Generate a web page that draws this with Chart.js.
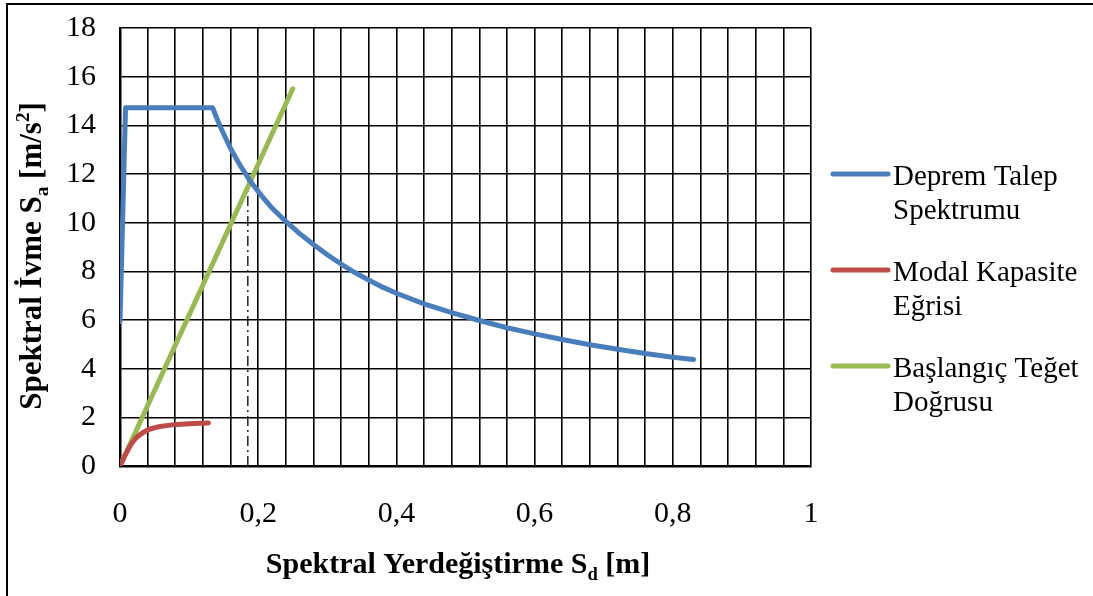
<!DOCTYPE html>
<html>
<head>
<meta charset="utf-8">
<script src="https://cdn.jsdelivr.net/npm/chart.js@4.4.0/dist/chart.umd.min.js"></script>
<style>
  body { margin: 0; background: #fff; }
  #wrap { width: 1093px; height: 596px; position: relative; }
</style>
</head>
<body>
<div id="wrap"><canvas id="spectrumChart"></canvas></div>
<script>
const seriesNames = ["Deprem Talep Spektrumu", "Modal Kapasite Eğrisi", "Başlangıç Teğet Doğrusu"];
const legendLines = [["Deprem Talep", "Spektrumu"], ["Modal Kapasite", "Eğrisi"], ["Başlangıç Teğet", "Doğrusu"]];

// Deprem talep spektrumu (Sd [m], Sa [m/s2])
const demandSd = [0, 0.008, 0.134, 0.145, 0.16, 0.175, 0.19, 0.205, 0.22, 0.24, 0.26, 0.28, 0.30, 0.32, 0.34, 0.36, 0.38, 0.40, 0.44, 0.48, 0.52, 0.56, 0.60, 0.64, 0.68, 0.72, 0.76, 0.80, 0.83];
const demandSa = [5.93, 14.72, 14.72, 13.95, 13.05, 12.3, 11.65, 11.1, 10.6, 10.05, 9.55, 9.1, 8.68, 8.3, 7.95, 7.64, 7.35, 7.1, 6.66, 6.3, 5.98, 5.68, 5.43, 5.2, 4.98, 4.8, 4.62, 4.47, 4.38];

// Modal kapasite egrisi
const capacitySd = [0, 0.005, 0.01, 0.017, 0.024, 0.03, 0.04, 0.05, 0.06, 0.07, 0.08, 0.09, 0.10, 0.11, 0.12, 0.128];
const capacitySa = [0, 0.3, 0.58, 0.93, 1.17, 1.31, 1.48, 1.57, 1.63, 1.67, 1.70, 1.72, 1.74, 1.75, 1.76, 1.77];

// Baslangic teget dogrusu
const tangentSd = [0, 0.25];
const tangentSa = [0, 15.5];

// performans noktasi (dikey kesikli cizgi)
const perfSd = [0.185, 0.185];
const perfSa = [0, 11.7];

const xTicks = [0, 0.2, 0.4, 0.6, 0.8, 1];
const yTicks = [0, 2, 4, 6, 8, 10, 12, 14, 16, 18];

const FONT = "'Liberation Serif', 'Times New Roman', serif";

function toPoints(xs, ys) {
  return xs.map((x, i) => ({ x: x, y: ys[i] }));
}

// bold text with sub/superscripts
function drawRich(ctx, parts, cx, cy, size) {
  let total = 0;
  parts.forEach(p => {
    ctx.font = "bold " + (p.s ? size * 0.62 : size) + "px " + FONT;
    p.w = ctx.measureText(p.t).width;
    total += p.w;
  });
  let x = cx - total / 2;
  ctx.textBaseline = "alphabetic";
  ctx.textAlign = "left";
  parts.forEach(p => {
    ctx.font = "bold " + (p.s ? size * 0.62 : size) + "px " + FONT;
    let dy = 0;
    if (p.s === "sub") dy = size * 0.22;
    if (p.s === "sup") dy = -size * 0.38;
    ctx.fillText(p.t, x, cy + dy);
    x += p.w;
  });
}

const decorPlugin = {
  id: "decor",
  beforeDraw(chart) {
    const ctx = chart.ctx;
    ctx.save();
    ctx.fillStyle = "#fff";
    ctx.fillRect(0, 0, chart.width, chart.height);
    ctx.strokeStyle = "#000";
    ctx.lineWidth = 2;
    ctx.beginPath();
    ctx.moveTo(7, chart.height);
    ctx.lineTo(7, 4);
    ctx.lineTo(chart.width, 4);
    ctx.stroke();
    ctx.restore();
  },
  afterDraw(chart) {
    const ctx = chart.ctx;
    const area = chart.chartArea;
    ctx.save();
    ctx.fillStyle = "#000";

    // axis titles
    drawRich(ctx, [{ t: "Spektral Yerdeğiştirme S" }, { t: "d", s: "sub" }, { t: " [m]" }],
      458, 573, 30);
    ctx.save();
    ctx.translate(41, 256);
    ctx.rotate(-Math.PI / 2);
    drawRich(ctx, [{ t: "Spektral İvme S" }, { t: "a", s: "sub" }, { t: " [m/s" }, { t: "2", s: "sup" }, { t: "]" }],
      0, 0, 31);
    ctx.restore();

    // legend
    const lx = area.right + 22;
    chart.data.datasets.slice(0, 3).forEach((ds, i) => {
      const ly = 174 + i * 96;
      ctx.strokeStyle = ds.borderColor;
      ctx.lineWidth = 5;
      ctx.lineCap = "round";
      ctx.beginPath();
      ctx.moveTo(lx, ly);
      ctx.lineTo(lx + 55, ly);
      ctx.stroke();
      ctx.font = "29px " + FONT;
      ctx.textAlign = "left";
      ctx.textBaseline = "middle";
      ctx.fillText(legendLines[i][0], lx + 60, ly + 3);
      ctx.fillText(legendLines[i][1], lx + 60, ly + 37);
    });
    ctx.restore();
  }
};

const ctx = document.getElementById("spectrumChart").getContext("2d");
new Chart(ctx, {
  type: "scatter",
  data: {
    datasets: [
      {
        label: seriesNames[0],
        data: toPoints(demandSd, demandSa),
        borderColor: "#4A7EBB",
        borderWidth: 5,
        showLine: true,
        pointRadius: 0,
        tension: 0,
        borderCapStyle: "round",
        borderJoinStyle: "round",
      },
      {
        label: seriesNames[1],
        data: toPoints(capacitySd, capacitySa),
        borderColor: "#BE4B48",
        borderWidth: 5,
        showLine: true,
        pointRadius: 0,
        cubicInterpolationMode: "monotone",
        borderCapStyle: "round",
      },
      {
        label: seriesNames[2],
        data: toPoints(tangentSd, tangentSa),
        borderColor: "#98B954",
        borderWidth: 5,
        showLine: true,
        pointRadius: 0,
        borderCapStyle: "round",
      },
      {
        label: "Performans",
        data: toPoints(perfSd, perfSa),
        borderColor: "#000",
        borderWidth: 1.3,
        borderDash: [10, 4, 2, 4],
        showLine: true,
        pointRadius: 0,
      },
    ],
  },
  options: {
    responsive: true,
    maintainAspectRatio: false,
    animation: false,
    layout: { padding: { left: 0, top: 28, right: 282, bottom: 0 } },
    plugins: {
      legend: { display: false },
      tooltip: { enabled: false },
    },
    scales: {
      x: {
        type: "linear",
        min: 0,
        max: 1,
        afterFit: function (scale) {
          scale.height = 130;
          scale.paddingLeft = 0;
          scale.paddingRight = 0;
        },
        afterBuildTicks: function (scale) {
          const t = [];
          for (let i = 0; i <= 25; i++) t.push({ value: i / 25 });
          scale.ticks = t;
        },
        ticks: {
          autoSkip: false,
          maxRotation: 0,
          padding: 30,
          color: "#000",
          font: { family: FONT, size: 30 },
          callback: function (value) {
            const hit = xTicks.find(v => Math.abs(v - value) < 1e-6);
            if (hit === undefined) return "";
            if (hit === 0 || hit === 1) return String(hit);
            return hit.toFixed(1).replace(".", ",");
          },
        },
        grid: { color: "#000", lineWidth: 1.6, drawTicks: false },
        border: { color: "#000", width: 2.5 },
      },
      y: {
        min: 0,
        max: 18,
        afterFit: function (scale) {
          scale.width = 120;
          scale.paddingTop = 0;
          scale.paddingBottom = 0;
        },
        afterBuildTicks: function (scale) {
          scale.ticks = yTicks.map(v => ({ value: v }));
        },
        ticks: {
          padding: 24,
          color: "#000",
          font: { family: FONT, size: 30 },
        },
        grid: { color: "#000", lineWidth: 1.6, drawTicks: false },
        border: { color: "#000", width: 2.5 },
      },
    },
  },
  plugins: [decorPlugin],
});
</script>
</body>
</html>
